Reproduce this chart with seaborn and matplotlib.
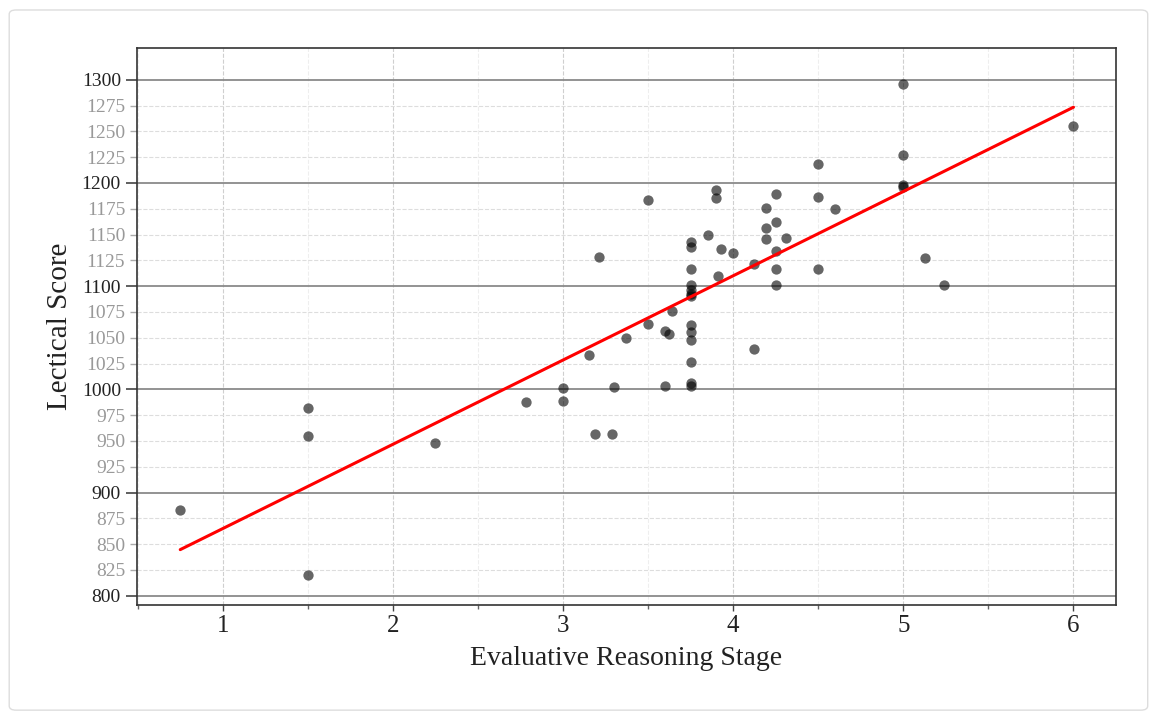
import numpy as np
import pandas as pd
import seaborn as sns
import matplotlib.pyplot as plt
from matplotlib.ticker import MultipleLocator, FixedLocator, FormatStrFormatter
from matplotlib.patches import FancyBboxPatch

# evaluative reasoning stage and lectical score
stage = [0.75, 1.5, 1.5, 1.5, 2.25, 2.78, 3.0, 3.0, 3.15, 3.19,
         3.21, 3.29, 3.3, 3.37, 3.5, 3.5, 3.6, 3.62, 3.64, 3.6,
         3.75, 3.75, 3.75, 3.75, 3.75, 3.75, 3.75, 3.75, 3.75, 3.75,
         3.75, 3.75, 3.75, 3.85, 3.9, 3.9, 3.91, 3.93, 4.0, 4.12,
         4.12, 4.19, 4.19, 4.19, 4.25, 4.25, 4.25, 4.25, 4.25, 4.31,
         4.5, 4.5, 4.5, 4.6, 5.0, 5.0, 5.0, 5.0, 5.13, 5.24, 6.0]
score = [883, 982, 955, 820, 948, 988, 1001, 989, 1033, 957,
         1128, 957, 1002, 1050, 1183, 1063, 1057, 1054, 1076, 1003,
         1143, 1138, 1117, 1101, 1096, 1092, 1090, 1062, 1056, 1048,
         1026, 1006, 1003, 1150, 1193, 1185, 1110, 1136, 1132, 1121,
         1039, 1176, 1156, 1146, 1189, 1162, 1134, 1117, 1101, 1147,
         1218, 1186, 1117, 1175, 1296, 1227, 1198, 1196, 1127, 1101, 1255]

major_y = [800, 900, 1000, 1100, 1200, 1300]
minor_y = [825, 850, 875, 925, 950, 975, 1025, 1050, 1075,
           1125, 1150, 1175, 1225, 1250, 1275]

df = pd.DataFrame({'stage': stage, 'score': score})

sns.set_style('white')
plt.rcParams['font.family'] = ['Liberation Serif', 'DejaVu Serif']

fig = plt.figure(figsize=(11.5, 7.13), dpi=100)
fig.patches.append(FancyBboxPatch((0.008, 0.004), 0.99, 0.982, boxstyle='round,pad=0,rounding_size=0.006',
                                  transform=fig.transFigure, fill=False, edgecolor='#dddddd', lw=1))
ax = fig.add_axes([0.119, 0.1515, 0.851, 0.7815])

sns.regplot(data=df, x='stage', y='score', ax=ax, ci=None,
            scatter_kws={'s': 55, 'color': 'black', 'alpha': 0.6, 'linewidths': 0},
            line_kws={'color': 'red', 'lw': 2.2})

ax.set_xlim(0.495, 6.247)
ax.set_ylim(791, 1331)

ax.xaxis.set_major_locator(MultipleLocator(1))
ax.xaxis.set_minor_locator(MultipleLocator(0.5))
ax.yaxis.set_major_locator(FixedLocator(major_y))
ax.yaxis.set_minor_locator(FixedLocator(minor_y))
ax.yaxis.set_major_formatter(FormatStrFormatter('%d'))
ax.yaxis.set_minor_formatter(FormatStrFormatter('%d'))

ax.grid(which='major', axis='y', color='#8a8a8a', lw=1.3, ls='-')
ax.grid(which='minor', axis='y', color='#dddddd', lw=0.8, ls='--')
ax.grid(which='major', axis='x', color='#cfcfcf', lw=0.8, ls='--')
ax.grid(which='minor', axis='x', color='#eeeeee', lw=0.8, ls='--')
ax.set_axisbelow(True)

ax.tick_params(axis='y', which='major', length=8, width=1.2, color='#444444',
               labelsize=14, labelcolor='#222222', left=True)
ax.tick_params(axis='y', which='minor', length=5, width=1, color='#aaaaaa',
               labelsize=14, labelcolor='#999999', left=True)
ax.tick_params(axis='x', which='major', length=4, width=1, color='#444444',
               labelsize=18, labelcolor='#222222', bottom=True)
ax.tick_params(axis='x', which='minor', length=3, width=1, color='#666666', bottom=True)

for side in ['top', 'right', 'left', 'bottom']:
    ax.spines[side].set_color('#333333')
    ax.spines[side].set_linewidth(1.2)

ax.set_xlabel('Evaluative Reasoning Stage', fontsize=20, color='#222222', labelpad=6)
ax.set_ylabel('Lectical Score', fontsize=21, color='#222222', labelpad=6)

fig.savefig('out.png', dpi=100)
